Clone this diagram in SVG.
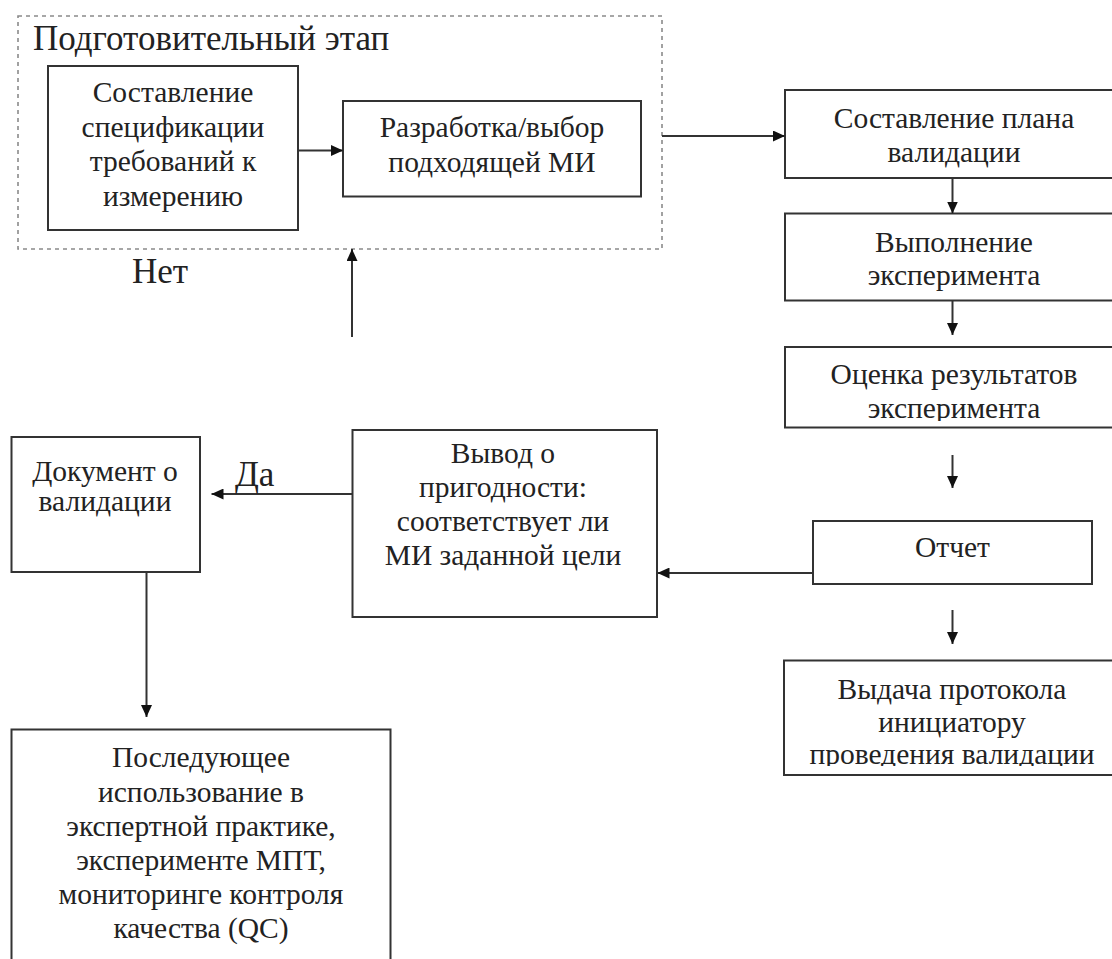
<svg xmlns="http://www.w3.org/2000/svg" width="1112" height="959" viewBox="0 0 1112 959">
<style>
  .box { fill: #ffffff; stroke: #333333; stroke-width: 2; }
  .grp { fill: none; stroke: #8a8a8a; stroke-width: 1.6; stroke-dasharray: 4 4; }
  .t { font-family: "Liberation Serif", "Times New Roman", serif; font-size: 29.5px; fill: #222222; text-anchor: middle; }
  .lbl { font-family: "Liberation Serif", "Times New Roman", serif; font-size: 35px; fill: #222222; }
  .c { fill: none; stroke: #333333; stroke-width: 2; }
</style>
<defs>
  <marker id="ah" markerUnits="userSpaceOnUse" markerWidth="12" markerHeight="11" refX="12" refY="5.5" orient="auto">
    <path d="M0,0 L12,5.5 L0,11 z" fill="#111111"/>
  </marker>
  <clipPath id="clip5"><rect x="786" y="348" width="330" height="73"/></clipPath>
  <clipPath id="clip7"><rect x="785" y="661" width="330" height="105"/></clipPath>
</defs>
<rect width="1112" height="959" fill="#ffffff"/>

<g id="prep-stage">
  <rect class="grp" x="18" y="16" width="644" height="233"/>
  <text class="lbl" x="33" y="50">Подготовительный этап</text>
</g>

<g id="n-spec">
  <rect class="box" x="48" y="66" width="250" height="164"/>
  <text class="t" x="173" y="102">Составление</text>
  <text class="t" x="173" y="136.5">спецификации</text>
  <text class="t" x="173" y="171">требований к</text>
  <text class="t" x="173" y="205.5">измерению</text>
</g>

<g id="n-dev">
  <rect class="box" x="343" y="101" width="298" height="95.5"/>
  <text class="t" x="492" y="137">Разработка/выбор</text>
  <text class="t" x="492" y="172">подходящей МИ</text>
</g>

<g id="n-plan">
  <rect class="box" x="785" y="90" width="340" height="88"/>
  <text class="t" x="954" y="128">Составление плана</text>
  <text class="t" x="954" y="162">валидации</text>
</g>

<g id="n-exec">
  <rect class="box" x="785" y="213.5" width="340" height="87"/>
  <text class="t" x="954" y="251.5">Выполнение</text>
  <text class="t" x="954" y="285">эксперимента</text>
</g>

<g id="n-eval">
  <rect class="box" x="785" y="347" width="340" height="80.5"/>
  <g clip-path="url(#clip5)">
    <text class="t" x="954" y="384">Оценка результатов</text>
    <text class="t" x="954" y="418">эксперимента</text>
  </g>
</g>

<g id="n-report">
  <rect class="box" x="813" y="521" width="279" height="63"/>
  <text class="t" x="952.5" y="557">Отчет</text>
</g>

<g id="n-issue">
  <rect class="box" x="784" y="660.5" width="340" height="114.5"/>
  <g clip-path="url(#clip7)">
    <text class="t" x="952" y="698.5">Выдача протокола</text>
    <text class="t" x="952" y="732">инициатору</text>
    <text class="t" x="952" y="764">проведения валидации</text>
  </g>
</g>

<g id="n-conclusion">
  <rect class="box" x="352.5" y="430" width="304.5" height="187"/>
  <text class="t" x="503" y="463">Вывод о</text>
  <text class="t" x="503" y="497">пригодности:</text>
  <text class="t" x="503" y="531">соответствует ли</text>
  <text class="t" x="503" y="565">МИ заданной цели</text>
</g>

<g id="n-doc">
  <rect class="box" x="11.5" y="437" width="188.5" height="135"/>
  <text class="t" x="105" y="481">Документ о</text>
  <text class="t" x="105" y="511">валидации</text>
</g>

<g id="n-use">
  <rect class="box" x="11.5" y="729.5" width="379" height="240"/>
  <text class="t" x="201" y="767">Последующее</text>
  <text class="t" x="201" y="801.5">использование в</text>
  <text class="t" x="201" y="836">экспертной практике,</text>
  <text class="t" x="201" y="870">эксперименте МПТ,</text>
  <text class="t" x="201" y="904">мониторинге контроля</text>
  <text class="t" x="201" y="938">качества (QC)</text>
</g>

<g id="connectors">
  <line class="c" x1="298" y1="150.5" x2="343" y2="150.5" marker-end="url(#ah)"/>
  <line class="c" x1="662" y1="136" x2="785" y2="136" marker-end="url(#ah)"/>
  <line class="c" x1="952.5" y1="178" x2="952.5" y2="213.5" marker-end="url(#ah)"/>
  <line class="c" x1="952.5" y1="300.5" x2="952.5" y2="335" marker-end="url(#ah)"/>
  <line class="c" x1="952.5" y1="455" x2="952.5" y2="488" marker-end="url(#ah)"/>
  <line class="c" x1="952.5" y1="610" x2="952.5" y2="644" marker-end="url(#ah)"/>
  <line class="c" x1="813" y1="573" x2="657.5" y2="573" marker-end="url(#ah)"/>
  <line class="c" x1="352.5" y1="494" x2="211.5" y2="494" marker-end="url(#ah)"/>
  <line class="c" x1="146.5" y1="572" x2="146.5" y2="717" marker-end="url(#ah)"/>
  <line class="c" x1="352" y1="337" x2="352" y2="249" marker-end="url(#ah)"/>
  <text class="lbl" x="235" y="486">Да</text>
  <text class="lbl" x="132" y="283">Нет</text>
</g>
</svg>
